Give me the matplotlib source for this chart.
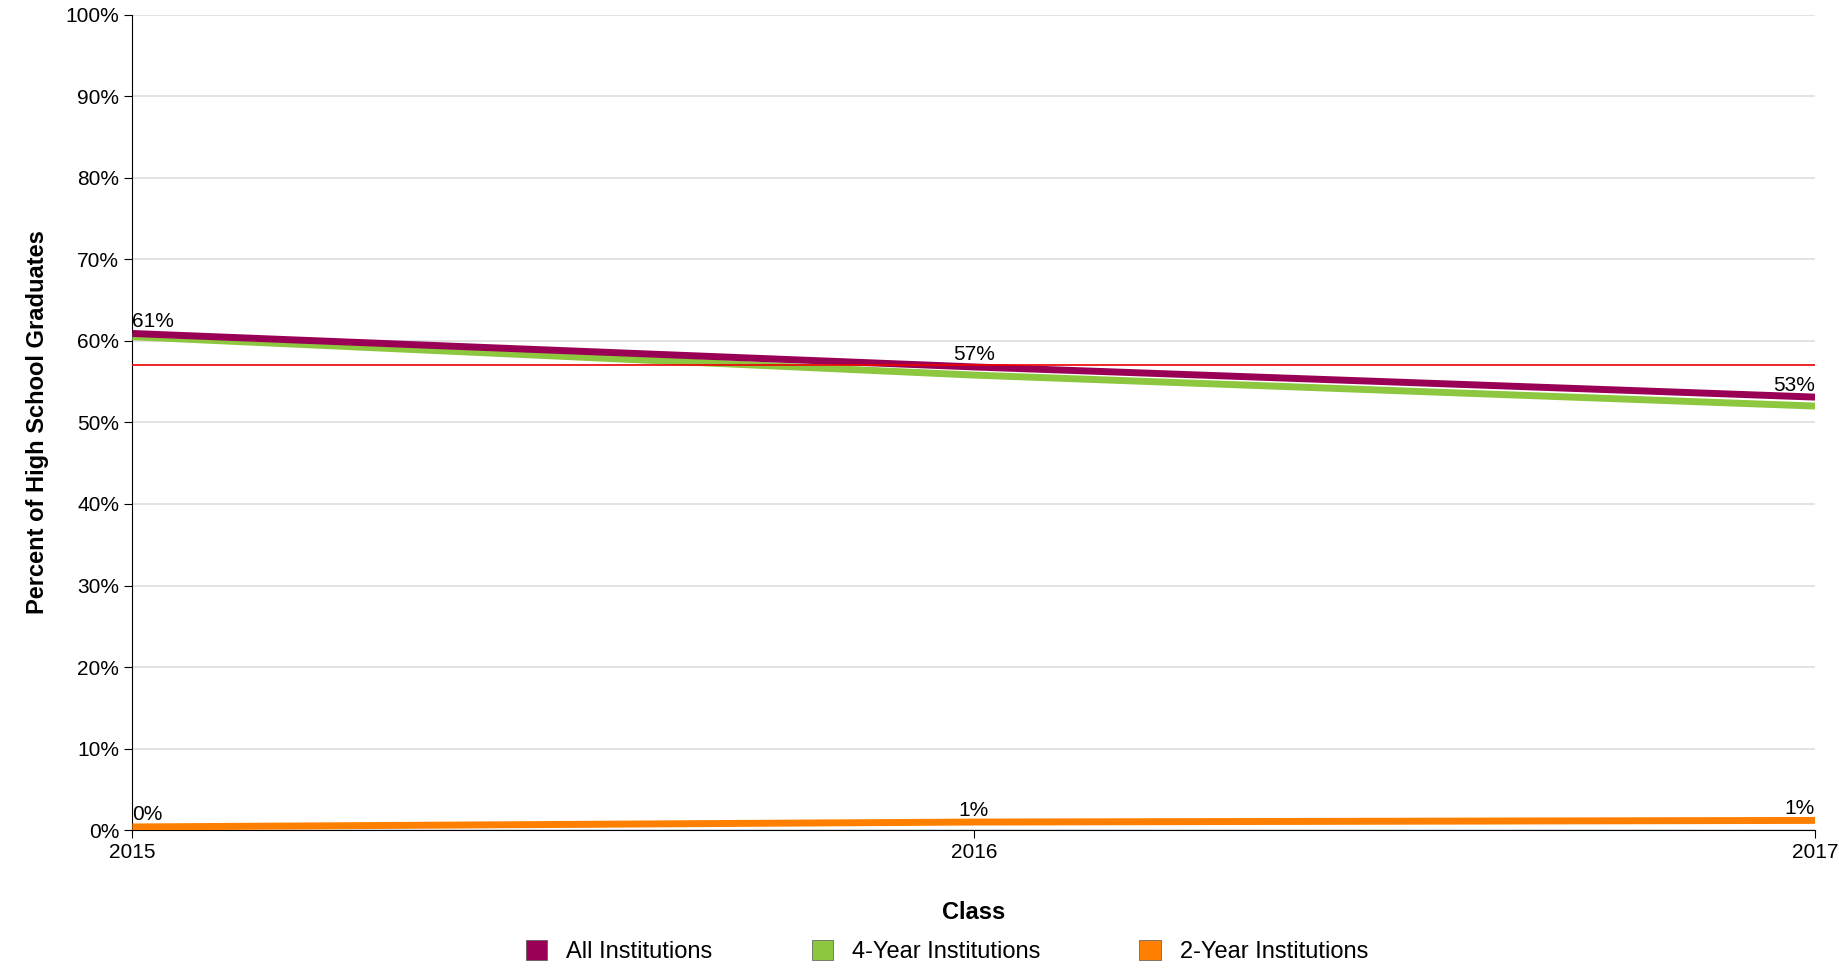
import matplotlib
matplotlib.use('Agg')
import matplotlib.pyplot as plt
from matplotlib.patches import Patch

years = [2015, 2016, 2017]
all_inst = [60.9, 56.8, 53.1]
four_year = [60.5, 55.8, 52.0]
two_year = [0.4, 1.0, 1.2]
reference_level = 57
series_names = ['All Institutions', '4-Year Institutions', '2-Year Institutions']
colors = ['#990055', '#8dc63f', '#ff8000']

plt.rcParams['font.family'] = ['Liberation Sans', 'DejaVu Sans']
fig = plt.figure(figsize=(18.39, 9.71), dpi=100)
ax = fig.add_axes([0.072, 0.145, 0.915, 0.84])

ax.plot(years, four_year, color=colors[1], lw=5, solid_capstyle='butt', zorder=3)
ax.plot(years, all_inst, color=colors[0], lw=5, solid_capstyle='butt', zorder=4)
ax.plot(years, two_year, color=colors[2], lw=5, solid_capstyle='butt', zorder=3)
ax.axhline(reference_level, color='#ee0000', lw=1.2, zorder=5)

for i, (x, a, t) in enumerate(zip(years, all_inst, two_year)):
    ha = 'left' if i == 0 else ('right' if i == len(years) - 1 else 'center')
    ax.text(x, a + 0.3, f'{round(a)}%', ha=ha, va='bottom', fontsize=15, zorder=6)
    ax.text(x, t + 0.3, f'{round(t)}%', ha=ha, va='bottom', fontsize=15, zorder=6)

ax.set_xlim(years[0], years[-1])
ax.set_ylim(0, 100)
ax.set_xticks(years)
ax.set_yticks(range(0, 101, 10))
ax.set_yticklabels([f'{v}%' for v in range(0, 101, 10)])
ax.tick_params(labelsize=15, length=6)
ax.grid(axis='y', color='#dddddd', lw=1.2)
ax.set_axisbelow(True)
for s in ['top', 'right']:
    ax.spines[s].set_visible(False)
ax.set_xlabel('Class', fontsize=17, fontweight='bold', labelpad=28)
ax.set_ylabel('Percent of High School Graduates', fontsize=17, fontweight='bold', labelpad=12)

handles = [Patch(facecolor=c, edgecolor='#555555', lw=0.5) for c in colors]
fig.legend(handles, series_names, loc='lower center', ncol=3, frameon=False,
           fontsize=17, bbox_to_anchor=(0.515, -0.014), columnspacing=4.2,
           handlelength=0.9, handleheight=0.9)

fig.savefig('out.png', dpi=100)
